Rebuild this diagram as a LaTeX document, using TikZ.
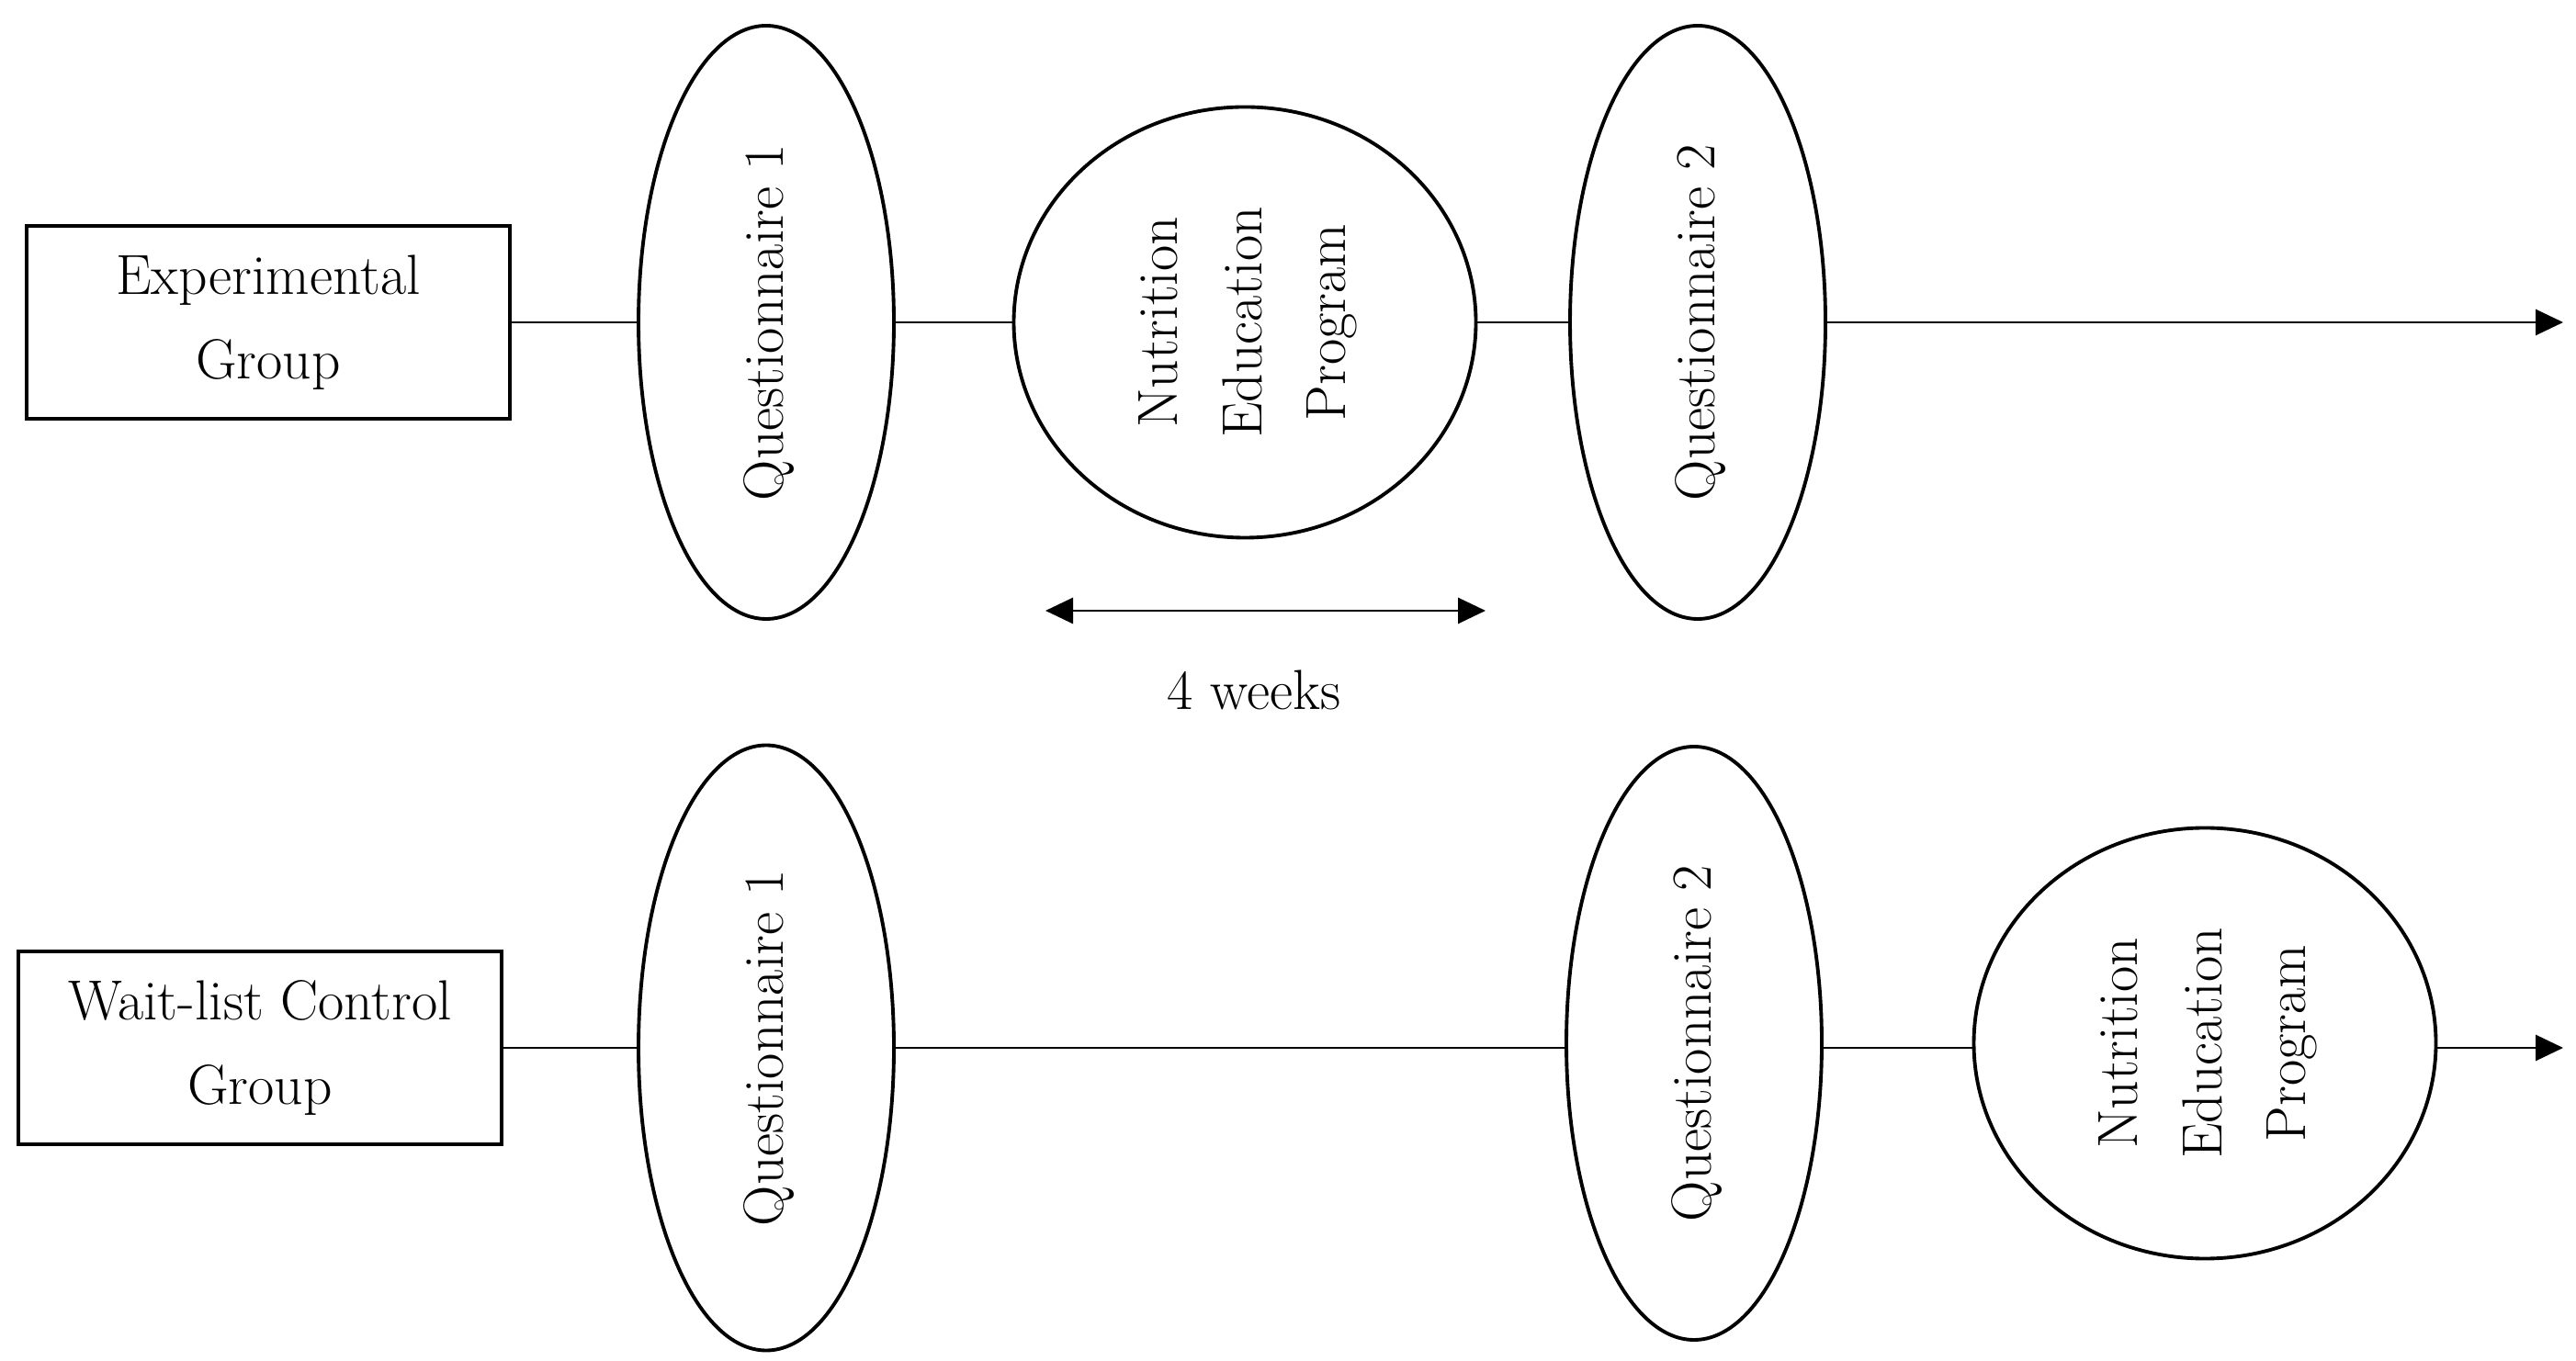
\documentclass[tikz,border=0pt]{standalone}
\usepackage{tikz}
\usetikzlibrary{
        arrows.meta,
        shapes.geometric
    }
\tikzset{>={Triangle[length=3mm,width=2.8mm]}}
\tikzset{every node/.style={font=\fontsize{17.5}{26}\selectfont}}
\tikzset{
  groupbox/.style={draw,line width=1.4pt,rectangle,minimum width=5.26cm,minimum height=2.1cm,align=center,inner sep=0pt},
  questell/.style={draw,line width=1.1pt,ellipse,minimum width=2.78cm,minimum height=6.46cm,inner sep=0pt},
  progell/.style={draw,line width=1.1pt,ellipse,minimum width=5.03cm,minimum height=4.69cm,inner sep=0pt},
  link/.style={line width=0.8pt}
}
\newcommand{\vtext}[1]{\rotatebox{90}{\begin{tabular}{@{}c@{}}#1\end{tabular}}}

\begin{document}
\begin{tikzpicture}
                \useasboundingbox (0,0) rectangle (28.04,14.81);
                % experimental group
                \node[groupbox] (expg) at (2.92,11.3) {Experimental\\Group};
                \node[questell] (q1a) at (8.34,11.3) {\vtext{Questionnaire 1}};
                \node[progell] (nepa) at (13.55,11.3) {\vtext{Nutrition\\Education\\Program}};
                \node[questell] (q2a) at (18.48,11.3) {\vtext{Questionnaire 2}};
                \coordinate (enda) at (27.9,11.3);
                \draw[link] (expg) -- (q1a);
                \draw[link] (q1a) -- (nepa);
                \draw[link] (nepa) -- (q2a);
                \draw[link,->] (q2a) -- (enda);
                % 4 weeks
                \coordinate (wkl) at (11.38,8.16);
                \coordinate (wkr) at (16.17,8.16);
                \draw[link,<->] (wkl) -- (wkr);
                \node (weeks) at (13.65,7.3) {4 weeks};
                % wait-list control group
                \node[groupbox] (ctrl) at (2.83,3.4) {Wait-list Control\\Group};
                \node[questell,minimum height=6.59cm] (q1b) at (8.34,3.4) {\vtext{Questionnaire 1}};
                \node[questell] (q2b) at (18.44,3.45) {\vtext{Questionnaire 2}};
                \node[progell] (nepb) at (24.0,3.45) {\vtext{Nutrition\\Education\\Program}};
                \coordinate (endb) at (27.9,3.4);
                \draw[link] (ctrl) -- (q1b);
                \draw[link] (q1b) -- (q1b -| q2b.west);
                \draw[link] (q2b.east |- q1b) -- (q1b -| nepb.west);
                \draw[link,->] (nepb.east |- q1b) -- (endb);
\end{tikzpicture}
\end{document}
